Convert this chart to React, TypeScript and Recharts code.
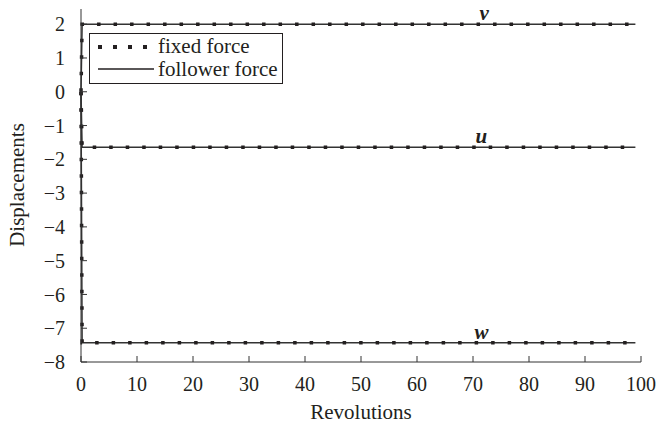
import { Line, LineChart, ReferenceDot, XAxis, YAxis } from "recharts";

// revolutions at which the response was sampled
const revolutions = [0, 0.2, 99];

// displacements, fixed force
const uFixed = [0, -1.64, -1.64];
const vFixed = [0, 2.0, 2.0];
const wFixed = [0, -7.43, -7.43];

// displacements, follower force
const uFollower = [0, -1.64, -1.64];
const vFollower = [0, 2.0, 2.0];
const wFollower = [0, -7.43, -7.43];

const xTicks = [0, 10, 20, 30, 40, 50, 60, 70, 80, 90, 100];
const yTicks = [-8, -7, -6, -5, -4, -3, -2, -1, 0, 1, 2];

// curve names and where they are written
const curveNames = ["v", "u", "w"];
const curveLabelX = [72, 71.5, 71.5];
const curveLabelY = [vFollower[2], uFollower[2], wFollower[2]];

const data = revolutions.map((r, i) => ({
  r,
  uFixed: uFixed[i],
  vFixed: vFixed[i],
  wFixed: wFixed[i],
  uFollower: uFollower[i],
  vFollower: vFollower[i],
  wFollower: wFollower[i],
}));

const font = "Liberation Serif";
const ink = "#231f20";

const minus = (v: number) => String(v).replace("-", "\u2212");

function LegendBox() {
  return (
    <div
      style={{
        position: "absolute",
        left: 89,
        top: 33,
        border: `1px solid ${ink}`,
        background: "#fff",
        width: 194,
        height: 51,
        boxSizing: "border-box",
        fontFamily: font,
        fontSize: 21,
        color: ink,
        lineHeight: "23px",
        paddingTop: 1,
      }}
    >
      <div style={{ display: "flex", alignItems: "center" }}>
        <svg width={68} height={23}>
          <line
            x1={8}
            x2={64}
            y1={12}
            y2={12}
            stroke={ink}
            strokeWidth={4}
            strokeDasharray="4 11"
          />
        </svg>
        <span>fixed force</span>
      </div>
      <div style={{ display: "flex", alignItems: "center" }}>
        <svg width={68} height={23}>
          <line x1={8} x2={64} y1={11} y2={11} stroke={ink} strokeWidth={1.5} />
        </svg>
        <span>follower force</span>
      </div>
    </div>
  );
}

export default function App() {
  const fixedLine = {
    type: "linear" as const,
    stroke: ink,
    strokeWidth: 3.5,
    strokeDasharray: "3.5 13",
    dot: false,
    isAnimationActive: false,
  };
  const followerLine = {
    type: "linear" as const,
    stroke: "#333",
    strokeWidth: 1.5,
    dot: false,
    isAnimationActive: false,
  };
  return (
    <div
      style={{
        position: "absolute",
        left: 0,
        top: 0,
        width: 662,
        height: 426,
        fontFamily: font,
      }}
    >
      <LineChart
        width={662}
        height={426}
        data={data}
        margin={{ top: 9, right: 21, left: 0, bottom: 0 }}
        style={{ fontFamily: font }}
      >
        <XAxis
          dataKey="r"
          type="number"
          domain={[0, 100]}
          ticks={xTicks}
          height={64}
          tickSize={-6}
          tickMargin={21}
          stroke="#333"
          tick={{ fill: ink, fontSize: 20, fontFamily: font }}
          label={{
            value: "Revolutions",
            position: "insideBottom",
            offset: 7,
            fill: ink,
            fontSize: 21,
            fontFamily: font,
          }}
        />
        <YAxis
          type="number"
          domain={[-8, 2.45]}
          ticks={yTicks}
          width={81}
          tickSize={-6}
          tickMargin={22}
          stroke="#333"
          tickFormatter={minus}
          tick={{ fill: ink, fontSize: 20, fontFamily: font }}
          label={{
            content: () => (
              <text
                x={17}
                y={185}
                transform="rotate(-90, 17, 185)"
                textAnchor="middle"
                dominantBaseline="central"
                fill={ink}
                fontSize={21}
                fontFamily={font}
              >
                Displacements
              </text>
            ),
          }}
        />
        <Line dataKey="vFollower" {...followerLine} legendType="none" />
        <Line dataKey="uFollower" {...followerLine} legendType="none" />
        <Line dataKey="wFollower" {...followerLine} legendType="none" />
        <Line dataKey="vFixed" {...fixedLine} legendType="none" />
        <Line dataKey="uFixed" {...fixedLine} legendType="none" />
        <Line dataKey="wFixed" {...fixedLine} legendType="none" />
        {curveNames.map((name, i) => (
          <ReferenceDot
            key={name}
            x={curveLabelX[i]}
            y={curveLabelY[i]}
            r={0}
            stroke="none"
            fill="none"
            label={{
              value: name,
              position: "top",
              offset: 4,
              fill: ink,
              fontSize: 21,
              fontStyle: "italic",
              fontWeight: "bold",
              fontFamily: font,
            }}
          />
        ))}
      </LineChart>
      <LegendBox />
    </div>
  );
}
